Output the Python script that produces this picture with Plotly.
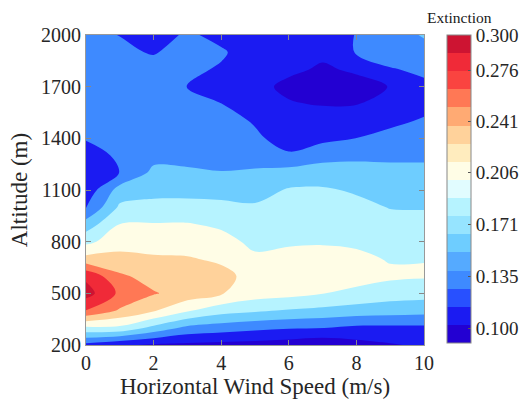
import plotly.graph_objects as go

# ---------------- data ----------------
wind_speed = [0, 1, 2, 3, 4, 5, 6, 7, 8, 9, 10]
altitude = [200, 300, 400, 500, 600, 700, 800, 900, 1000, 1100, 1200,
            1300, 1400, 1500, 1600, 1700, 1800, 1900, 2000]

ext_200 = [0.118, 0.106, 0.099, 0.097, 0.095, 0.093, 0.090, 0.085, 0.094, 0.100, 0.106]
ext_300 = [0.192, 0.1915, 0.166, 0.1433, 0.1375, 0.1316, 0.1278, 0.1262, 0.1205, 0.1206, 0.121]
ext_400 = [0.266, 0.2404, 0.2223, 0.199, 0.1821, 0.1763, 0.1706, 0.1668, 0.1629, 0.160, 0.1576]
ext_500 = [0.300, 0.262, 0.245, 0.234, 0.2215, 0.2075, 0.204, 0.197, 0.1895, 0.1835, 0.1816]
ext_600 = [0.285, 0.247, 0.234, 0.235, 0.226, 0.212, 0.214, 0.214, 0.207, 0.2005, 0.1985]
ext_700 = [0.228, 0.2266, 0.2226, 0.2215, 0.2162, 0.2005, 0.205, 0.206, 0.2015, 0.1945, 0.1955]
ext_800 = [0.190, 0.2105, 0.2103, 0.2097, 0.2044, 0.1905, 0.1926, 0.1937, 0.1923, 0.1876, 0.1873]
ext_900 = [0.160, 0.1969, 0.1977, 0.198, 0.1922, 0.1829, 0.1866, 0.1875, 0.1853, 0.1798, 0.1794]
ext_1000 = [0.124, 0.1768, 0.1794, 0.1802, 0.1787, 0.1754, 0.1805, 0.1814, 0.1783, 0.1719, 0.1714]
ext_1100 = [0.110, 0.1588, 0.1656, 0.1653, 0.1646, 0.1647, 0.1745, 0.1752, 0.1703, 0.1635, 0.1629]
ext_1200 = [0.104, 0.1262, 0.1547, 0.1529, 0.1499, 0.1523, 0.159, 0.1614, 0.1582, 0.1551, 0.1543]
ext_1300 = [0.112, 0.131, 0.142, 0.142, 0.143, 0.140, 0.128, 0.1405, 0.1445, 0.1453, 0.1457]
ext_1400 = [0.128, 0.138, 0.142, 0.142, 0.137, 0.129, 0.118, 0.120, 0.126, 0.1322, 0.1368]
ext_1500 = [0.140, 0.142, 0.140, 0.138, 0.133, 0.124, 0.112, 0.108, 0.110, 0.121, 0.1279]
ext_1600 = [0.142, 0.143, 0.140, 0.133, 0.126, 0.112, 0.103, 0.1015, 0.1015, 0.110, 0.119]
ext_1700 = [0.140, 0.142, 0.135, 0.1255, 0.118, 0.105, 0.100, 0.097, 0.099, 0.1025, 0.121]
ext_1800 = [0.138, 0.140, 0.135, 0.131, 0.123, 0.112, 0.104, 0.101, 0.1035, 0.124, 0.130]
ext_1900 = [0.135, 0.130, 0.124, 0.135, 0.129, 0.112, 0.105, 0.104, 0.128, 0.138, 0.142]
ext_2000 = [0.130, 0.1253, 0.113, 0.130, 0.118, 0.110, 0.104, 0.108, 0.127, 0.140, 0.151]

extinction = [ext_200, ext_300, ext_400, ext_500, ext_600, ext_700, ext_800,
              ext_900, ext_1000, ext_1100, ext_1200, ext_1300, ext_1400,
              ext_1500, ext_1600, ext_1700, ext_1800, ext_1900, ext_2000]

# colour bar
cbar_min = 0.0898
cbar_max = 0.300
cbar_ticks = [0.100, 0.135, 0.171, 0.206, 0.241, 0.276, 0.300]
cbar_colors = [
    "rgb(35,0,210)", "rgb(27,27,242)", "rgb(40,80,255)", "rgb(62,138,255)",
    "rgb(85,170,255)", "rgb(110,205,255)", "rgb(150,228,255)", "rgb(182,243,255)",
    "rgb(225,252,255)", "rgb(255,253,230)", "rgb(255,236,190)", "rgb(255,210,155)",
    "rgb(255,170,115)", "rgb(255,120,85)", "rgb(250,68,64)", "rgb(240,42,56)",
    "rgb(205,20,50)",
]

# contour levels used in the plot and the colormap entries they use
level_start = 0.1022
level_end = 0.2902
level_size = 0.0235
fill_colors = [cbar_colors[i] for i in [0, 1, 3, 5, 7, 9, 11, 13, 15, 16]]


def step_scale(colors):
    n = len(colors)
    scale = []
    for i, c in enumerate(colors):
        scale.append([i / n, c])
        scale.append([(i + 1) / n, c])
    return scale


FONT = "Liberation Serif, Times New Roman, serif"

fig = go.Figure()
fig.add_trace(go.Contour(
    x=wind_speed, y=altitude, z=extinction,
    contours=dict(start=level_start, end=level_end, size=level_size,
                  coloring="fill", showlines=False),
    line=dict(width=0),
    colorscale=step_scale(fill_colors),
    showscale=False,
    hoverinfo="skip",
))

# invisible trace carrying the 17-colour colour bar
fig.add_trace(go.Scatter(
    x=[5], y=[1000], mode="markers",
    marker=dict(size=1, opacity=0, color=[0.2],
                colorscale=step_scale(cbar_colors), cmin=cbar_min, cmax=cbar_max,
                showscale=True,
                colorbar=dict(
                    x=1.068, xanchor="left", xpad=0,
                    y=1.0, yanchor="top", ypad=0,
                    len=308, lenmode="pixels",
                    thickness=24, thicknessmode="pixels",
                    tickvals=cbar_ticks,
                    ticktext=[f"{v:.3f}" for v in cbar_ticks],
                    ticks="inside", ticklen=3, tickcolor="#555",
                    tickfont=dict(family=FONT, size=19, color="#262626"),
                    outlinecolor="#888", outlinewidth=1,
                )),
    hoverinfo="skip", showlegend=False,
))

axis_common = dict(
    showgrid=False, zeroline=False,
    ticks="inside", ticklen=5, tickcolor="#888",
    showline=True, linecolor="#999", linewidth=1, mirror="ticks",
    tickfont=dict(family=FONT, size=20, color="#262626"),
)

fig.update_layout(
    width=521, height=403,
    margin=dict(l=86, r=97, t=35, b=58, autoexpand=False),
    paper_bgcolor="white", plot_bgcolor="white",
    showlegend=False,
    xaxis=dict(range=[0, 10], tickvals=[0, 2, 4, 6, 8, 10],
               title=dict(text="Horizontal Wind Speed (m/s)", standoff=2,
                          font=dict(family=FONT, size=23, color="#262626")),
               **axis_common),
    yaxis=dict(range=[200, 2000], tickvals=[200, 500, 800, 1100, 1400, 1700, 2000],
               title=dict(text="Altitude (m)", standoff=6,
                          font=dict(family=FONT, size=23, color="#262626")),
               **axis_common),
    annotations=[dict(text="Extinction", x=1.1036, y=1.055, xref="paper", yref="paper",
                      showarrow=False, xanchor="center", yanchor="middle",
                      font=dict(family=FONT, size=15.5, color="#1a1a1a"))],
)

fig.write_html("out.html", config={"displayModeBar": False},
               post_script="document.body.style.margin='0';document.body.style.padding='0';")
